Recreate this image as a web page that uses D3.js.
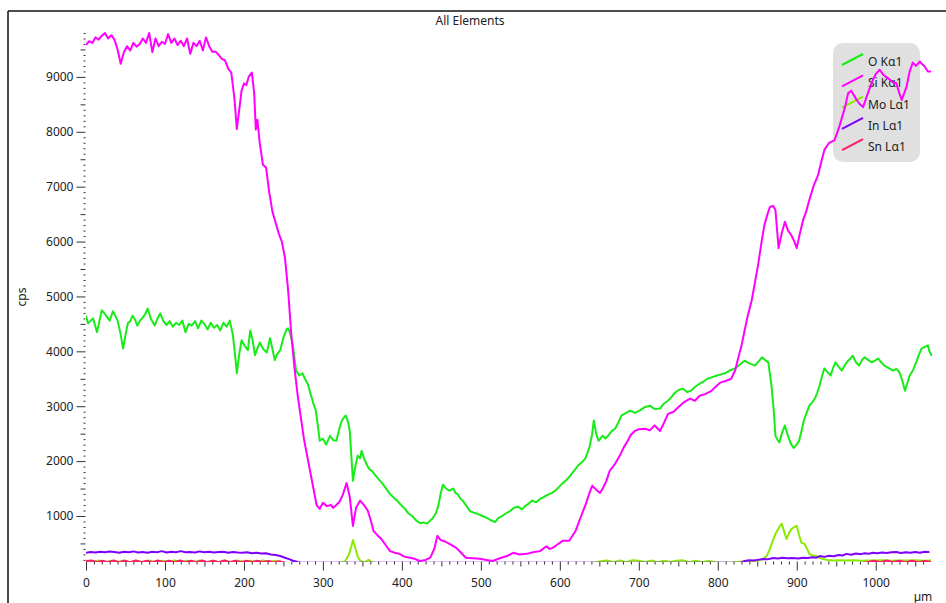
<!DOCTYPE html>
<html>
<head>
<meta charset="utf-8">
<script src="https://cdn.jsdelivr.net/npm/d3@7"></script>
<style>
  body { margin: 0; background: #fff; }
  svg { display: block; font-family: "Noto Sans", "DejaVu Sans", sans-serif; }
</style>
</head>
<body>
<svg id="chart" width="946" height="603"></svg>
<script>
// Canvas and plot area
const CANVAS_WIDTH = 946;
const CANVAS_HEIGHT = 603;
const PLOT_LEFT = 86;
const PLOT_RIGHT = 931;
const PLOT_TOP = 33;
const PLOT_BOTTOM = 561;

// Axis ticks and labels
const xMajorTicks = [0, 100, 200, 300, 400, 500, 600, 700, 800, 900, 1000];
const yMajorTicks = [1000, 2000, 3000, 4000, 5000, 6000, 7000, 8000, 9000];
const xDomain = [0, 1070];
const yDomain = [180, 9800];

const chartTitle = "All Elements";
const xUnit = "µm";
const yUnit = "cps";

// Series names and colours (legend order)
const seriesNames = ["O Kα1", "Si Kα1", "Mo Lα1", "In Lα1", "Sn Lα1"];
const seriesColors = ["#18ec18", "#ff00ff", "#8aea00", "#8000ff", "#ff1a6e"];

// Line scan values: [distance (µm), counts (cps)]
const oKa1 = [
  [0,4650],[2.5,4510],[6,4560],[9,4600],[14,4350],[17,4550],[20,4750],[24,4680],[27,4620],[30,4560],
  [34,4730],[37,4650],[40,4560],[44,4300],[47,4050],[50,4300],[53,4510],[56,4550],[59,4650],[62,4580],
  [65,4470],[68,4550],[72,4620],[75,4680],[78,4780],[82,4600],[87,4470],[90,4580],[94,4690],[98,4550],
  [102,4480],[106,4550],[110,4450],[114,4520],[118,4480],[122,4560],[126,4350],[130,4500],[134,4470],[138,4550],
  [142,4420],[146,4560],[150,4500],[154,4400],[158,4520],[162,4430],[166,4480],[170,4380],[174,4520],[178,4450],
  [182,4560],[186,4300],[189,3900],[191,3600],[194,3950],[197,4200],[201,4100],[205,4020],[208,4380],[211,4200],
  [214,3930],[217,4050],[220,4160],[224,4050],[229,3980],[233,4240],[236,4050],[239,3840],[242,3950],[246,4020],
  [250,4250],[254,4400],[256,4420],[259,4300],[262,4110],[266,3650],[270,3560],[274,3600],[277,3510],[281,3400],
  [285,3190],[288,3050],[291,2920],[294,2600],[296,2370],[300,2410],[304,2300],[309,2460],[313,2380],[317,2370],
  [321,2600],[324,2740],[327,2800],[329,2830],[332,2700],[334,2550],[336,2100],[338,1640],[341,1900],[344,2100],
  [347,2050],[349,2190],[352,2050],[356,1920],[359,1850],[362,1820],[366,1750],[370,1680],[375,1600],[380,1500],
  [385,1400],[390,1330],[394,1280],[399,1200],[404,1130],[408,1050],[413,1000],[418,920],[423,870],[428,880],
  [432,860],[436,920],[439,960],[443,1050],[446,1180],[449,1400],[452,1570],[456,1500],[460,1460],[465,1500],
  [468,1420],[471,1390],[474,1320],[477,1280],[482,1180],[486,1090],[491,1060],[496,1040],[502,1000],[508,960],
  [513,920],[518,890],[522,960],[527,1000],[532,1050],[537,1090],[542,1150],[547,1170],[552,1120],[556,1180],
  [561,1230],[565,1280],[570,1250],[575,1310],[580,1350],[585,1390],[590,1420],[594,1460],[599,1530],[603,1590],
  [608,1650],[613,1730],[618,1820],[623,1920],[628,1980],[632,2040],[635,2150],[638,2280],[641,2500],[643,2740],
  [646,2500],[649,2370],[654,2460],[658,2410],[662,2480],[666,2550],[670,2590],[674,2700],[678,2830],[683,2870],
  [689,2920],[695,2880],[701,2920],[707,2980],[714,3010],[720,2950],[727,2960],[732,3050],[737,3100],[742,3180],
  [746,3250],[751,3300],[756,3320],[761,3260],[766,3280],[771,3350],[777,3410],[782,3450],[787,3500],[793,3530],
  [799,3560],[804,3580],[809,3600],[815,3650],[822,3690],[828,3760],[834,3830],[840,3780],[847,3740],[852,3820],
  [856,3890],[860,3840],[864,3800],[868,3380],[871,2900],[873,2460],[876,2380],[878,2340],[881,2500],[885,2650],
  [888,2500],[891,2370],[894,2280],[896,2240],[900,2300],[903,2370],[906,2550],[909,2740],[913,2900],[916,3010],
  [920,3080],[923,3140],[926,3250],[929,3380],[932,3550],[935,3690],[939,3620],[943,3560],[946,3700],[949,3800],
  [953,3720],[957,3650],[961,3750],[965,3830],[968,3870],[971,3920],[975,3800],[979,3740],[983,3850],[986,3890],
  [990,3850],[995,3800],[999,3830],[1003,3870],[1007,3800],[1011,3740],[1016,3700],[1022,3650],[1026,3680],[1030,3620],
  [1034,3450],[1037,3280],[1040,3420],[1043,3560],[1047,3650],[1052,3830],[1055,3950],[1058,4050],[1062,4080],[1066,4110],
  [1068,4000],[1071,3920]
];

const siKa1 = [
  [0,9580],[4,9650],[8,9620],[12,9720],[16,9680],[20,9750],[24,9800],[28,9700],[32,9760],[36,9680],
  [40,9500],[44,9240],[48,9450],[52,9560],[56,9480],[60,9620],[64,9550],[68,9600],[72,9700],[76,9620],
  [80,9800],[84,9450],[88,9700],[92,9560],[96,9640],[100,9600],[104,9780],[108,9620],[112,9700],[116,9580],
  [120,9660],[124,9560],[128,9700],[132,9420],[136,9620],[140,9560],[144,9660],[148,9480],[152,9720],[156,9560],
  [160,9460],[164,9460],[168,9400],[172,9330],[176,9300],[180,9150],[184,9080],[188,8600],[191,8050],[194,8400],
  [197,8750],[200,8880],[203,8850],[206,9000],[210,9080],[213,8700],[215,8040],[217,8220],[220,7800],[224,7400],
  [228,7350],[232,6900],[236,6550],[240,6350],[244,6150],[248,6000],[252,5700],[256,5100],[260,4300],[264,3700],
  [268,3200],[272,2800],[276,2400],[280,2100],[284,1800],[288,1500],[292,1200],[296,1130],[300,1240],[305,1180],
  [310,1200],[313,1150],[317,1200],[321,1260],[325,1380],[330,1600],[334,1350],[338,820],[342,1150],[347,1280],
  [352,1200],[357,1090],[361,900],[364,730],[369,650],[374,580],[379,480],[385,360],[391,330],[397,310],
  [403,260],[410,240],[416,220],[423,180],[430,200],[436,240],[441,400],[445,640],[449,560],[452,550],
  [458,510],[463,470],[469,420],[475,330],[481,240],[490,230],[499,220],[507,200],[515,180],[524,230],
  [533,270],[541,330],[549,300],[558,310],[566,340],[575,360],[583,450],[587,400],[591,420],[597,480],
  [604,550],[612,550],[620,730],[627,1000],[633,1220],[637,1400],[641,1550],[646,1480],[651,1420],[655,1520],
  [659,1640],[663,1820],[670,1950],[676,2100],[681,2250],[686,2370],[690,2480],[695,2550],[700,2580],[708,2590],
  [714,2560],[720,2650],[727,2550],[732,2700],[737,2860],[744,2900],[752,3010],[758,3080],[765,3140],[771,3100],
  [777,3190],[784,3220],[792,3280],[797,3350],[803,3430],[810,3460],[817,3500],[822,3650],[825,3830],[830,4100],
  [834,4380],[838,4650],[843,4930],[847,5250],[851,5570],[855,5950],[859,6300],[863,6500],[866,6630],[870,6650],
  [873,6580],[877,5880],[881,6150],[885,6360],[889,6200],[893,6120],[897,6000],[900,5880],[904,6150],[908,6390],
  [912,6550],[916,6760],[921,7000],[927,7210],[931,7450],[935,7670],[941,7800],[948,7850],[954,8100],[961,8440],
  [965,8700],[969,8750],[973,8650],[976,8580],[980,8500],[984,8450],[990,8700],[995,8900],[1000,9050],[1005,9130],
  [1009,9050],[1013,9000],[1018,8950],[1022,8900],[1026,8890],[1030,8700],[1033,8580],[1036,8700],[1039,8820],[1043,9100],
  [1047,9260],[1051,9200],[1056,9280],[1059,9230],[1062,9190],[1066,9100],[1070,9100]
];

const moLa1 = [
  [0,185],[8,160],[16,190],[24,158],[32,186],[40,162],[48,190],[56,156],[64,186],[72,160],
  [80,189],[88,158],[96,185],[104,162],[112,190],[120,156],[128,186],[136,160],[144,188],[152,158],
  [160,187],[168,160],[176,190],[184,156],[192,188],[200,162],[208,186],[216,158],[224,189],[232,160],
  [240,185],[248,150],[260,140],[320,140],[328,170],[333,300],[336,450],[338,560],[341,420],[344,260],
  [347,190],[350,170],[353,150],[356,185],[358,200],[361,170],[366,140],[640,140],[652,175],[660,190],
  [668,160],[676,192],[684,158],[692,195],[700,185],[708,160],[716,188],[724,156],[732,186],[740,160],
  [748,185],[756,192],[764,158],[772,183],[780,156],[788,182],[796,160],[804,150],[815,150],[825,160],
  [835,175],[845,180],[852,190],[857,215],[862,270],[866,400],[870,560],[874,700],[878,800],[881,860],
  [884,720],[887,580],[890,680],[893,760],[897,800],[900,820],[903,650],[906,510],[910,490],[913,400],
  [916,310],[920,280],[925,270],[930,230],[938,200],[946,190],[955,195],[964,188],[973,192],[982,186],
  [991,190],[1000,188],[1010,192],[1020,186],[1030,190],[1040,188],[1050,192],[1060,186],[1070,190]
];

const inLa1 = [
  [0,330],[6,345],[12,335],[18,350],[24,340],[30,355],[36,345],[42,330],[48,350],[54,340],
  [60,355],[66,335],[72,345],[78,330],[84,350],[90,340],[96,360],[102,335],[108,350],[114,340],
  [120,360],[126,340],[132,345],[138,335],[144,355],[150,340],[156,350],[162,335],[168,345],[174,350],
  [180,330],[186,345],[192,335],[198,330],[204,340],[210,320],[216,330],[222,315],[228,320],[234,300],
  [240,290],[246,270],[252,240],[258,210],[262,185],[266,170],[270,150],[830,150],[834,180],[840,195],
  [846,190],[852,205],[857,215],[863,210],[870,235],[876,225],[882,240],[888,230],[895,235],[902,225],
  [908,240],[914,235],[920,250],[925,240],[929,270],[935,255],[941,275],[947,265],[953,290],[958,280],
  [963,310],[969,295],[975,315],[981,305],[986,320],[991,310],[996,330],[1002,320],[1008,335],[1014,325],
  [1020,340],[1026,345],[1032,325],[1038,340],[1044,330],[1050,345],[1056,330],[1062,350],[1068,345]
];

const snLa1 = [
  [0,180],[7,188],[14,158],[21,186],[28,160],[35,190],[42,156],[49,185],[56,160],[63,188],
  [70,157],[77,186],[84,160],[91,189],[98,156],[105,185],[112,160],[119,188],[126,156],[133,186],
  [140,160],[147,190],[154,157],[161,186],[168,160],[175,188],[182,156],[189,184],[196,160],[203,187],
  [210,157],[217,185],[224,160],[231,182],[238,155],[245,178],[252,150],[260,140],[980,140],[990,160],
  [998,186],[1006,158],[1014,188],[1022,160],[1030,185],[1038,156],[1046,184],[1054,158],[1062,178],[1070,160]
];

const seriesData = [oKa1, siKa1, moLa1, inLa1, snLa1];

const svg = d3.select("#chart");

// Scales
const xScale = d3.scaleLinear().domain(xDomain).range([PLOT_LEFT, PLOT_RIGHT]);
const yScale = d3.scaleLinear().domain(yDomain).range([PLOT_BOTTOM, PLOT_TOP]);

// Frame lines (top and left)
svg.append("line")
  .attr("x1", 8).attr("y1", 11).attr("x2", CANVAS_WIDTH).attr("y2", 11)
  .attr("stroke", "#111").attr("stroke-width", 1.5);
svg.append("line")
  .attr("x1", 8).attr("y1", 11).attr("x2", 8).attr("y2", CANVAS_HEIGHT)
  .attr("stroke", "#111").attr("stroke-width", 1.5);

// Title and axis units
svg.append("text")
  .text(chartTitle)
  .attr("x", 470).attr("y", 25)
  .attr("text-anchor", "middle")
  .style("font-size", "12px").attr("fill", "#222");

svg.append("text")
  .text(yUnit)
  .attr("transform", "translate(26, 297) rotate(-90)")
  .attr("text-anchor", "middle")
  .style("font-size", "12px").attr("fill", "#222");

svg.append("text")
  .text(xUnit)
  .attr("x", 923).attr("y", 601)
  .attr("text-anchor", "middle")
  .style("font-size", "12px").attr("fill", "#222");

// Helper: draw one tier of ticks with no domain line
const drawTicks = (axis, transform, withLabels) => {
  const g = svg.append("g").attr("transform", transform).call(axis);
  g.select(".domain").remove();
  g.selectAll("line").attr("stroke", "#333");
  g.selectAll("text")
    .style("font-size", "12px")
    .style("font-family", "'Noto Sans', 'DejaVu Sans', sans-serif")
    .attr("fill", "#222");
  if (!withLabels) g.selectAll("text").remove();
  return g;
};

// x axis: minor every 10, medium every 50, major every 100
const xMinor = d3.range(10, xDomain[1], 10).filter((v) => v % 50 !== 0);
const xMedium = d3.range(50, xDomain[1], 100);
drawTicks(d3.axisBottom(xScale).tickValues(xMinor).tickSize(3).tickFormat(""), `translate(0, ${PLOT_BOTTOM + 0.5})`, false);
drawTicks(d3.axisBottom(xScale).tickValues(xMedium).tickSize(5).tickFormat(""), `translate(0, ${PLOT_BOTTOM + 0.5})`, false);
drawTicks(d3.axisBottom(xScale).tickValues(xMajorTicks).tickSize(9).tickPadding(8).tickFormat(d3.format("d")), `translate(0, ${PLOT_BOTTOM + 0.5})`, true);

// y axis: minor every 100, medium every 500, major every 1000
const yMinor = d3.range(200, 9900, 100).filter((v) => v % 500 !== 0);
const yMedium = d3.range(500, 9900, 1000);
drawTicks(d3.axisLeft(yScale).tickValues(yMinor).tickSize(2).tickFormat(""), `translate(${PLOT_LEFT - 0.5}, 0)`, false);
drawTicks(d3.axisLeft(yScale).tickValues(yMedium).tickSize(5).tickFormat(""), `translate(${PLOT_LEFT - 0.5}, 0)`, false);
drawTicks(d3.axisLeft(yScale).tickValues(yMajorTicks).tickSize(9).tickPadding(3).tickFormat(d3.format("d")), `translate(${PLOT_LEFT - 0.5}, 0)`, true);

// Legend (drawn under the lines, as in the original)
const legend = svg.append("g").attr("transform", "translate(833, 43)");
legend.append("rect")
  .attr("width", 87).attr("height", 119)
  .attr("rx", 10).attr("ry", 10)
  .attr("fill", "#e0e0e0");
seriesNames.forEach((name, i) => {
  const row = legend.append("g").attr("transform", `translate(0, ${19 + i * 21.3})`);
  row.append("line")
    .attr("x1", 9).attr("y1", 3).attr("x2", 30).attr("y2", -8)
    .attr("stroke", seriesColors[i]).attr("stroke-width", 2);
  row.append("text")
    .text(name)
    .attr("x", 35).attr("y", 4)
    .style("font-size", "12px").attr("fill", "#222");
});

// Clip the lines to the plot area so values below the minimum vanish
svg.append("clipPath").attr("id", "plot-clip")
  .append("rect")
  .attr("x", PLOT_LEFT).attr("y", 0)
  .attr("width", PLOT_RIGHT - PLOT_LEFT + 2)
  .attr("height", PLOT_BOTTOM + 1);

const line = d3.line()
  .x((d) => xScale(d[0]))
  .y((d) => yScale(d[1]));

const lines = svg.append("g").attr("clip-path", "url(#plot-clip)");
seriesData.forEach((data, i) => {
  lines.append("path")
    .datum(data)
    .attr("d", line)
    .attr("fill", "none")
    .attr("stroke", seriesColors[i])
    .attr("stroke-width", 2)
    .attr("stroke-linejoin", "round");
});
</script>
</body>
</html>
